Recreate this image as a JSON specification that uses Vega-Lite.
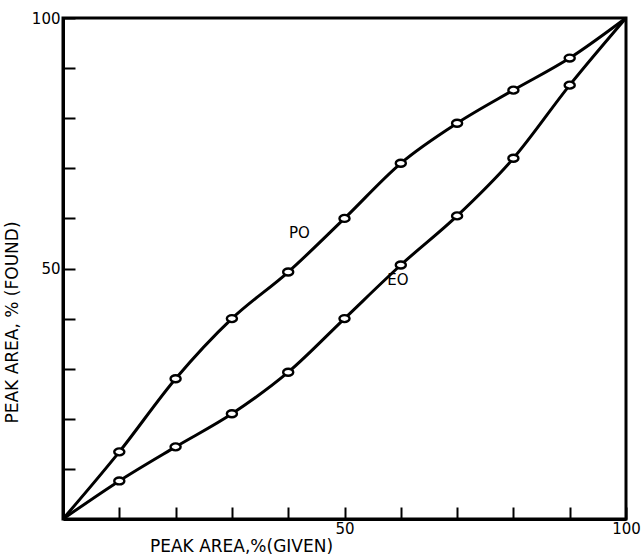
{
  "$schema": "https://vega.github.io/schema/vega-lite/v6.json",
  "autosize": "none",
  "width": 563,
  "height": 501,
  "padding": {"left": 63, "top": 18, "right": 15, "bottom": 38},
  "background": "white",
  "config": {
    "view": {"stroke": "black", "strokeWidth": 3},
    "font": "DejaVu Sans"
  },
  "datasets": {
    "curves": [
      {"series": "PO", "given": 0, "found": 0, "marker": false},
      {"series": "PO", "given": 10, "found": 13.4, "marker": true},
      {"series": "PO", "given": 20, "found": 28, "marker": true},
      {"series": "PO", "given": 30, "found": 40, "marker": true},
      {"series": "PO", "given": 40, "found": 49.3, "marker": true},
      {"series": "PO", "given": 50, "found": 60, "marker": true},
      {"series": "PO", "given": 60, "found": 71, "marker": true},
      {"series": "PO", "given": 70, "found": 79, "marker": true},
      {"series": "PO", "given": 80, "found": 85.6, "marker": true},
      {"series": "PO", "given": 90, "found": 92, "marker": true},
      {"series": "PO", "given": 100, "found": 100, "marker": false},
      {"series": "EO", "given": 0, "found": 0, "marker": false},
      {"series": "EO", "given": 10, "found": 7.6, "marker": true},
      {"series": "EO", "given": 20, "found": 14.4, "marker": true},
      {"series": "EO", "given": 30, "found": 21, "marker": true},
      {"series": "EO", "given": 40, "found": 29.3, "marker": true},
      {"series": "EO", "given": 50, "found": 40, "marker": true},
      {"series": "EO", "given": 60, "found": 50.7, "marker": true},
      {"series": "EO", "given": 70, "found": 60.5, "marker": true},
      {"series": "EO", "given": 80, "found": 72, "marker": true},
      {"series": "EO", "given": 90, "found": 86.6, "marker": true},
      {"series": "EO", "given": 100, "found": 100, "marker": false}
    ],
    "labels": [
      {"label": "PO", "given": 42, "found": 57},
      {"label": "EO", "given": 59.5, "found": 47.7}
    ]
  },
  "encoding": {
    "x": {
      "field": "given", "type": "quantitative",
      "scale": {"domain": [0, 100], "nice": false, "zero": true},
      "axis": {
        "title": "PEAK AREA,%(GIVEN)",
        "titleFont": "DejaVu Sans", "titleFontSize": 17, "titleFontWeight": "normal", "titleColor": "black",
        "titleX": 178, "titleY": 36, "titleAlign": "center", "titleBaseline": "bottom",
        "values": [10, 20, 30, 40, 50, 60, 70, 80, 90, 100],
        "labelExpr": "datum.value == 50 || datum.value == 100 ? datum.label : ''",
        "tickSize": -12, "tickWidth": 2, "tickColor": "black",
        "domainColor": "black", "domainWidth": 3,
        "labelPadding": 14, "labelFontSize": 15, "labelColor": "black", "labelFont": "DejaVu Sans",
        "grid": false, "labelFlush": false
      }
    },
    "y": {
      "field": "found", "type": "quantitative",
      "scale": {"domain": [0, 100], "nice": false, "zero": true},
      "axis": {
        "title": "PEAK AREA, % (FOUND)",
        "titleFont": "DejaVu Sans", "titleFontSize": 17, "titleFontWeight": "normal", "titleColor": "black",
        "titleX": -42, "titleY": 304, "titleAlign": "center", "titleAngle": -90, "titleBaseline": "bottom",
        "values": [10, 20, 30, 40, 50, 60, 70, 80, 90, 100],
        "labelExpr": "datum.value == 50 || datum.value == 100 ? datum.label : ''",
        "tickSize": -12, "tickWidth": 2, "tickColor": "black",
        "domainColor": "black", "domainWidth": 3,
        "labelPadding": 15, "labelFontSize": 15, "labelColor": "black", "labelFont": "DejaVu Sans",
        "grid": false, "labelFlush": false
      }
    }
  },
  "layer": [
    {
      "data": {"name": "curves"},
      "mark": {"type": "line", "interpolate": "monotone", "color": "black", "strokeWidth": 3},
      "encoding": {"detail": {"field": "series"}}
    },
    {
      "data": {"name": "curves"},
      "transform": [{"filter": "datum.marker"}],
      "mark": {"type": "point", "shape": "M -1.3 0 A 1.3 0.9 0 1 1 1.3 0 A 1.3 0.9 0 1 1 -1.3 0 Z", "filled": true, "fill": "white", "stroke": "black", "strokeWidth": 2.4, "size": 60, "opacity": 1}
    },
    {
      "data": {"name": "labels"},
      "mark": {"type": "text", "font": "DejaVu Sans", "fontSize": 15, "color": "black", "align": "center", "baseline": "middle"},
      "encoding": {"text": {"field": "label"}}
    }
  ]
}
